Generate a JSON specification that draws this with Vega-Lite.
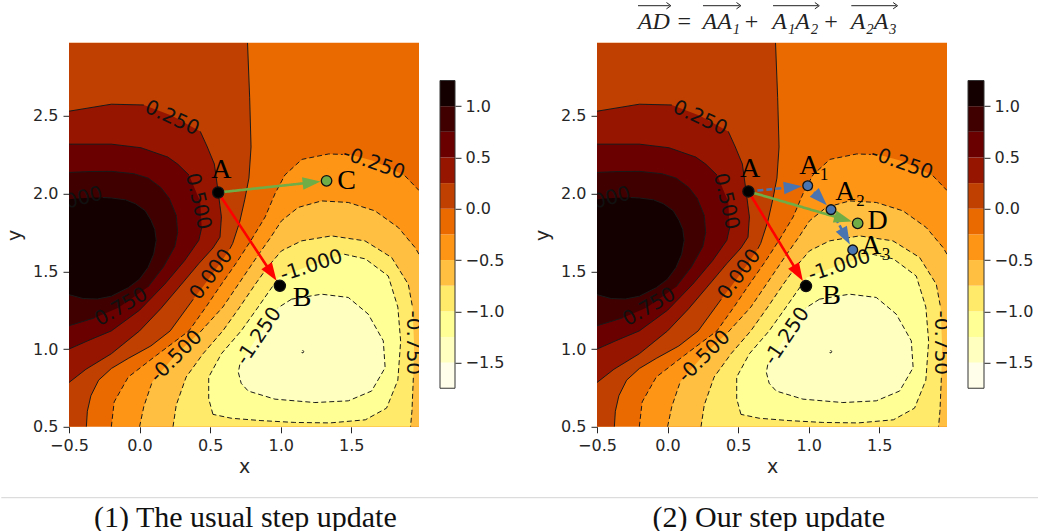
{
"$schema": "https://vega.github.io/schema/vega-lite/v6.json",
"background": "white",
"padding": {"left": 0, "top": 0, "right": 0, "bottom": 0},
"bounds": "full",
"spacing": 19.7,
"config": {
 "view": {"stroke": null},
 "axis": {"labelFont": "DejaVu Sans", "labelFontSize": 16, "labelColor": "#262626", "tickColor": "#262626", "tickSize": 6, "tickWidth": 1, "labelPadding": 5, "domain": false, "grid": false, "labelFlush": false, "labelOverlap": false, "titleFont": "DejaVu Sans", "titleFontSize": 19, "titleFontWeight": "normal", "titleColor": "#262626"},
 "axisX": {"titlePadding": 4},
 "axisY": {"titlePadding": 8}
},
"datasets": {
 "ct": [
  {"c":"p100","g":0,"s":0,"x":-0.5,"y":1.35},{"c":"p100","g":0,"s":1,"x":-0.4,"y":1.325},{"c":"p100","g":0,"s":2,"x":-0.3,"y":1.322},{"c":"p100","g":0,"s":3,"x":-0.2,"y":1.34},{"c":"p100","g":0,"s":4,"x":-0.08,"y":1.395},{"c":"p100","g":0,"s":5,"x":0.0,"y":1.45},{"c":"p100","g":0,"s":6,"x":0.06,"y":1.525},{"c":"p100","g":0,"s":7,"x":0.1,"y":1.61},{"c":"p100","g":0,"s":8,"x":0.118,"y":1.7},{"c":"p100","g":0,"s":9,"x":0.108,"y":1.77},{"c":"p100","g":0,"s":10,"x":0.08,"y":1.83},{"c":"p100","g":0,"s":11,"x":0.04,"y":1.89},{"c":"p100","g":0,"s":12,"x":-0.03,"y":1.935},{"c":"p100","g":0,"s":13,"x":-0.1,"y":1.96},{"c":"p100","g":0,"s":14,"x":-0.2,"y":1.972},{"c":"p100","g":0,"s":15,"x":-0.26,"y":1.975},{"c":"p100","g":10,"s":16,"x":-0.32,"y":1.975},{"c":"p100","g":11,"s":17,"x":-0.42,"y":1.97},{"c":"p100","g":12,"s":18,"x":-0.5,"y":1.964},
  {"c":"p75","g":0,"s":0,"x":-0.5,"y":1.15},{"c":"p75","g":0,"s":1,"x":-0.32,"y":1.2},{"c":"p75","g":10,"s":2,"x":-0.15,"y":1.265},{"c":"p75","g":1,"s":3,"x":0.06,"y":1.4},{"c":"p75","g":1,"s":4,"x":0.17,"y":1.53},{"c":"p75","g":1,"s":5,"x":0.25,"y":1.66},{"c":"p75","g":1,"s":6,"x":0.27,"y":1.75},{"c":"p75","g":1,"s":7,"x":0.26,"y":1.86},{"c":"p75","g":1,"s":8,"x":0.21,"y":1.97},{"c":"p75","g":1,"s":9,"x":0.15,"y":2.04},{"c":"p75","g":1,"s":10,"x":0.06,"y":2.1},{"c":"p75","g":1,"s":11,"x":-0.04,"y":2.128},{"c":"p75","g":1,"s":12,"x":-0.2,"y":2.143},{"c":"p75","g":1,"s":13,"x":-0.35,"y":2.142},{"c":"p75","g":1,"s":14,"x":-0.5,"y":2.136},
  {"c":"p50","g":0,"s":0,"x":-0.5,"y":1.0},{"c":"p50","g":0,"s":1,"x":-0.35,"y":1.06},{"c":"p50","g":0,"s":2,"x":-0.2,"y":1.117},{"c":"p50","g":0,"s":3,"x":0.0,"y":1.25},{"c":"p50","g":0,"s":4,"x":0.178,"y":1.417},{"c":"p50","g":0,"s":5,"x":0.32,"y":1.57},{"c":"p50","g":0,"s":6,"x":0.42,"y":1.7},{"c":"p50","g":0,"s":7,"x":0.44,"y":1.78},{"c":"p50","g":10,"s":8,"x":0.43,"y":1.95},{"c":"p50","g":1,"s":9,"x":0.35,"y":2.12},{"c":"p50","g":1,"s":10,"x":0.27,"y":2.19},{"c":"p50","g":1,"s":11,"x":0.2,"y":2.235},{"c":"p50","g":1,"s":12,"x":0.01,"y":2.295},{"c":"p50","g":1,"s":13,"x":-0.2,"y":2.318},{"c":"p50","g":1,"s":14,"x":-0.5,"y":2.318},
  {"c":"p25","g":0,"s":0,"x":-0.5,"y":0.785},{"c":"p25","g":0,"s":1,"x":-0.38,"y":0.87},{"c":"p25","g":0,"s":2,"x":-0.2,"y":0.97},{"c":"p25","g":0,"s":3,"x":0.0,"y":1.117},{"c":"p25","g":0,"s":4,"x":0.15,"y":1.26},{"c":"p25","g":0,"s":5,"x":0.297,"y":1.417},{"c":"p25","g":0,"s":6,"x":0.42,"y":1.55},{"c":"p25","g":0,"s":7,"x":0.52,"y":1.65},{"c":"p25","g":0,"s":8,"x":0.57,"y":1.72},{"c":"p25","g":0,"s":9,"x":0.58,"y":1.85},{"c":"p25","g":0,"s":10,"x":0.557,"y":2.01},{"c":"p25","g":0,"s":11,"x":0.53,"y":2.19},{"c":"p25","g":0,"s":12,"x":0.48,"y":2.3},{"c":"p25","g":0,"s":13,"x":0.43,"y":2.4},{"c":"p25","g":10,"s":14,"x":0.23,"y":2.5},{"c":"p25","g":1,"s":15,"x":0.03,"y":2.57},{"c":"p25","g":1,"s":16,"x":-0.2,"y":2.575},{"c":"p25","g":1,"s":17,"x":-0.5,"y":2.53},
  {"c":"p0","g":0,"s":0,"x":0.765,"y":2.97},{"c":"p0","g":0,"s":1,"x":0.78,"y":2.62},{"c":"p0","g":0,"s":2,"x":0.79,"y":2.3},{"c":"p0","g":0,"s":3,"x":0.775,"y":2.1},{"c":"p0","g":0,"s":4,"x":0.745,"y":1.96},{"c":"p0","g":0,"s":5,"x":0.71,"y":1.82},{"c":"p0","g":0,"s":6,"x":0.66,"y":1.68},{"c":"p0","g":0,"s":7,"x":0.64,"y":1.645},{"c":"p0","g":10,"s":8,"x":0.57,"y":1.55},{"c":"p0","g":11,"s":9,"x":0.462,"y":1.417},{"c":"p0","g":1,"s":10,"x":0.38,"y":1.32},{"c":"p0","g":1,"s":11,"x":0.34,"y":1.27},{"c":"p0","g":1,"s":12,"x":0.217,"y":1.117},{"c":"p0","g":1,"s":13,"x":0.08,"y":1.02},{"c":"p0","g":1,"s":14,"x":-0.08,"y":0.94},{"c":"p0","g":1,"s":15,"x":-0.2,"y":0.875},{"c":"p0","g":1,"s":16,"x":-0.29,"y":0.8},{"c":"p0","g":1,"s":17,"x":-0.345,"y":0.7},{"c":"p0","g":1,"s":18,"x":-0.37,"y":0.6},{"c":"p0","g":1,"s":19,"x":-0.377,"y":0.5},
  {"c":"m25","g":0,"s":0,"x":-0.2,"y":0.5},{"c":"m25","g":0,"s":1,"x":-0.18,"y":0.66},{"c":"m25","g":0,"s":2,"x":-0.08,"y":0.82},{"c":"m25","g":0,"s":3,"x":0.12,"y":0.96},{"c":"m25","g":0,"s":4,"x":0.35,"y":1.117},{"c":"m25","g":0,"s":5,"x":0.47,"y":1.27},{"c":"m25","g":0,"s":6,"x":0.58,"y":1.417},{"c":"m25","g":0,"s":7,"x":0.69,"y":1.56},{"c":"m25","g":0,"s":8,"x":0.79,"y":1.7},{"c":"m25","g":0,"s":9,"x":0.89,"y":1.85},{"c":"m25","g":0,"s":10,"x":0.96,"y":2.0},{"c":"m25","g":0,"s":11,"x":1.03,"y":2.12},{"c":"m25","g":0,"s":12,"x":1.15,"y":2.22},{"c":"m25","g":0,"s":13,"x":1.34,"y":2.255},{"c":"m25","g":0,"s":14,"x":1.44,"y":2.252},{"c":"m25","g":10,"s":15,"x":1.5,"y":2.25},{"c":"m25","g":11,"s":16,"x":1.66,"y":2.21},{"c":"m25","g":12,"s":17,"x":1.85,"y":2.13},{"c":"m25","g":1,"s":18,"x":1.88,"y":2.115},{"c":"m25","g":1,"s":19,"x":1.98,"y":2.02},
  {"c":"m50","g":0,"s":0,"x":0.0,"y":0.5},{"c":"m50","g":0,"s":1,"x":0.03,"y":0.63},{"c":"m50","g":0,"s":2,"x":0.09,"y":0.79},{"c":"m50","g":10,"s":3,"x":0.26,"y":0.967},{"c":"m50","g":1,"s":4,"x":0.43,"y":1.11},{"c":"m50","g":1,"s":5,"x":0.59,"y":1.27},{"c":"m50","g":1,"s":6,"x":0.7,"y":1.417},{"c":"m50","g":1,"s":7,"x":0.845,"y":1.611},{"c":"m50","g":1,"s":8,"x":0.93,"y":1.72},{"c":"m50","g":1,"s":9,"x":1.006,"y":1.825},{"c":"m50","g":1,"s":10,"x":1.124,"y":1.911},{"c":"m50","g":1,"s":11,"x":1.29,"y":1.953},{"c":"m50","g":1,"s":12,"x":1.479,"y":1.943},{"c":"m50","g":1,"s":13,"x":1.668,"y":1.889},{"c":"m50","g":1,"s":14,"x":1.833,"y":1.782},{"c":"m50","g":1,"s":15,"x":1.952,"y":1.653},{"c":"m50","g":1,"s":16,"x":1.98,"y":1.61},
  {"c":"m75","g":0,"s":0,"x":0.237,"y":0.5},{"c":"m75","g":0,"s":1,"x":0.26,"y":0.64},{"c":"m75","g":0,"s":2,"x":0.33,"y":0.82},{"c":"m75","g":0,"s":3,"x":0.45,"y":0.97},{"c":"m75","g":0,"s":4,"x":0.59,"y":1.117},{"c":"m75","g":0,"s":5,"x":0.71,"y":1.27},{"c":"m75","g":0,"s":6,"x":0.82,"y":1.417},{"c":"m75","g":0,"s":7,"x":0.907,"y":1.527},{"c":"m75","g":0,"s":8,"x":1.006,"y":1.632},{"c":"m75","g":0,"s":9,"x":1.148,"y":1.696},{"c":"m75","g":0,"s":10,"x":1.36,"y":1.728},{"c":"m75","g":0,"s":11,"x":1.597,"y":1.696},{"c":"m75","g":0,"s":12,"x":1.786,"y":1.589},{"c":"m75","g":0,"s":13,"x":1.904,"y":1.417},{"c":"m75","g":0,"s":14,"x":1.935,"y":1.265},{"c":"m75","g":10,"s":15,"x":1.945,"y":1.03},{"c":"m75","g":1,"s":16,"x":1.94,"y":0.815},{"c":"m75","g":1,"s":17,"x":1.93,"y":0.6},{"c":"m75","g":1,"s":18,"x":1.92,"y":0.5},
  {"c":"m100","g":0,"s":0,"x":0.52,"y":0.58},{"c":"m100","g":0,"s":1,"x":0.49,"y":0.68},{"c":"m100","g":0,"s":2,"x":0.49,"y":0.82},{"c":"m100","g":0,"s":3,"x":0.58,"y":0.97},{"c":"m100","g":0,"s":4,"x":0.72,"y":1.117},{"c":"m100","g":0,"s":5,"x":0.84,"y":1.27},{"c":"m100","g":0,"s":6,"x":0.94,"y":1.4},{"c":"m100","g":0,"s":7,"x":0.985,"y":1.46},{"c":"m100","g":10,"s":8,"x":1.219,"y":1.54},{"c":"m100","g":1,"s":9,"x":1.45,"y":1.61},{"c":"m100","g":1,"s":10,"x":1.6,"y":1.58},{"c":"m100","g":1,"s":11,"x":1.762,"y":1.47},{"c":"m100","g":1,"s":12,"x":1.83,"y":1.27},{"c":"m100","g":1,"s":13,"x":1.85,"y":1.05},{"c":"m100","g":1,"s":14,"x":1.83,"y":0.8},{"c":"m100","g":1,"s":15,"x":1.75,"y":0.62},{"c":"m100","g":1,"s":16,"x":1.6,"y":0.545},{"c":"m100","g":1,"s":17,"x":1.35,"y":0.525},{"c":"m100","g":1,"s":18,"x":1.1,"y":0.528},{"c":"m100","g":1,"s":19,"x":0.86,"y":0.54},{"c":"m100","g":1,"s":20,"x":0.65,"y":0.555},{"c":"m100","g":1,"s":21,"x":0.52,"y":0.58},
  {"c":"m125","g":0,"s":0,"x":1.077,"y":1.321},{"c":"m125","g":0,"s":1,"x":0.98,"y":1.265},{"c":"m125","g":10,"s":2,"x":0.85,"y":1.1},{"c":"m125","g":1,"s":3,"x":0.71,"y":0.9},{"c":"m125","g":1,"s":4,"x":0.7,"y":0.85},{"c":"m125","g":1,"s":5,"x":0.72,"y":0.78},{"c":"m125","g":1,"s":6,"x":0.77,"y":0.73},{"c":"m125","g":1,"s":7,"x":0.959,"y":0.678},{"c":"m125","g":1,"s":8,"x":1.242,"y":0.656},{"c":"m125","g":1,"s":9,"x":1.479,"y":0.667},{"c":"m125","g":1,"s":10,"x":1.644,"y":0.73},{"c":"m125","g":1,"s":11,"x":1.74,"y":0.88},{"c":"m125","g":1,"s":12,"x":1.727,"y":1.053},{"c":"m125","g":1,"s":13,"x":1.62,"y":1.225},{"c":"m125","g":1,"s":14,"x":1.479,"y":1.332},{"c":"m125","g":1,"s":15,"x":1.29,"y":1.353},{"c":"m125","g":1,"s":16,"x":1.077,"y":1.321},
  {"c":"m150","g":0,"s":0,"x":1.148,"y":0.978},{"c":"m150","g":0,"s":1,"x":1.158,"y":0.975},{"c":"m150","g":0,"s":2,"x":1.163,"y":0.985},{"c":"m150","g":0,"s":3,"x":1.155,"y":0.993},{"c":"m150","g":0,"s":4,"x":1.148,"y":0.985},{"c":"m150","g":0,"s":5,"x":1.148,"y":0.978}
 ],
 "lab": [
  {"t":"0.250","x":0.23,"y":2.485,"a":25},
  {"t":"0.500","x":0.415,"y":1.95,"a":77},
  {"t":"1.000","x":-0.46,"y":1.955,"a":-15},
  {"t":"0.750","x":-0.13,"y":1.27,"a":-30},
  {"t":"0.000","x":0.509,"y":1.48,"a":-53},
  {"t":"-0.500","x":0.26,"y":0.952,"a":-45},
  {"t":"-1.250","x":0.845,"y":1.083,"a":-56},
  {"t":"-1.000","x":1.218,"y":1.535,"a":-18},
  {"t":"-0.250","x":1.66,"y":2.195,"a":19},
  {"t":"-0.750","x":1.937,"y":1.04,"a":90}
 ],
 "cb": [
  {"lo":-1.75,"hi":-1.5},{"lo":-1.5,"hi":-1.25},{"lo":-1.25,"hi":-1.0},{"lo":-1.0,"hi":-0.75},{"lo":-0.75,"hi":-0.5},{"lo":-0.5,"hi":-0.25},{"lo":-0.25,"hi":0.0},{"lo":0.0,"hi":0.25},{"lo":0.25,"hi":0.5},{"lo":0.5,"hi":0.75},{"lo":0.75,"hi":1.0},{"lo":1.0,"hi":1.25}
 ],
 "arr1": [
  {"k":"direct","x":0.557,"y":2.007,"x2":0.994,"y2":1.407},
  {"k":"sum","x":0.557,"y":2.007,"x2":1.325,"y2":2.082}
 ],
 "arr2": [
  {"k":"step","x":0.573,"y":2.014,"x2":0.993,"y2":2.051},
  {"k":"step","x":0.993,"y":2.051,"x2":1.158,"y2":1.897},
  {"k":"step","x":1.158,"y":1.897,"x2":1.312,"y2":1.638},
  {"k":"sum","x":0.573,"y":2.014,"x2":1.347,"y2":1.809},
  {"k":"direct","x":0.573,"y":2.014,"x2":0.981,"y2":1.405}
 ],
 "pts1": [
  {"k":"main","x":0.557,"y":2.007},{"k":"main","x":0.994,"y":1.407},{"k":"sum","x":1.325,"y":2.082}
 ],
 "pts2": [
  {"k":"main","x":0.573,"y":2.014},{"k":"main","x":0.981,"y":1.405},{"k":"step","x":0.993,"y":2.051},{"k":"step","x":1.158,"y":1.897},{"k":"step","x":1.312,"y":1.638},{"k":"sum","x":1.347,"y":1.809}
 ],
 "tx1": [
  {"t":"A","x":0.58,"y":2.151},{"t":"B","x":1.152,"y":1.328},{"t":"C","x":1.467,"y":2.078}
 ],
 "tx2": [
  {"t":"A","x":0.585,"y":2.158},{"t":"B","x":1.163,"y":1.34},{"t":"A₁","x":1.04,"y":2.175},{"t":"A₂","x":1.294,"y":2.013},{"t":"A₃","x":1.477,"y":1.661},{"t":"D","x":1.489,"y":1.822}
 ]
},
"vconcat": [
 {"vconcat": [
  {"width": 970, "height": 28,
   "encoding": {"x": {"field": "p", "type": "quantitative", "scale": {"domain": [0, 1]}, "axis": null}},
   "layer": [
    {"data": {"values": [{"t": "AD", "p": 0.6029}, {"t": "AA₁", "p": 0.6725}, {"t": "A₁A₂", "p": 0.7488}, {"t": "A₂A₃", "p": 0.8297}]},
     "mark": {"type": "text", "font": "Liberation Serif", "fontStyle": "italic", "fontSize": 24, "color": "#222222", "align": "center", "baseline": "alphabetic"},
     "encoding": {"y": {"datum": 0.0714, "type": "quantitative", "scale": {"domain": [0, 1]}, "axis": null}, "text": {"field": "t"}}},
    {"data": {"values": [{"t": "=", "p": 0.6343}, {"t": "+", "p": 0.7037}, {"t": "+", "p": 0.7856}]},
     "mark": {"type": "text", "font": "Liberation Serif", "fontSize": 24, "color": "#222222", "align": "center", "baseline": "alphabetic"},
     "encoding": {"y": {"datum": 0.0714, "type": "quantitative"}, "text": {"field": "t"}}},
    {"data": {"values": [{"p": 0.5866, "p2": 0.6192}, {"p": 0.6536, "p2": 0.6914}, {"p": 0.7258, "p2": 0.7722}, {"p": 0.8065, "p2": 0.8529}]},
     "layer": [
      {"mark": {"type": "rule", "color": "#222222", "strokeWidth": 1}, "encoding": {"x2": {"field": "p2"}, "y": {"datum": 0.904, "type": "quantitative"}}},
      {"mark": {"type": "point", "shape": "M-1,-1L0.4,0L-1,1", "filled": false, "stroke": "#222222", "strokeWidth": 1, "size": 40, "opacity": 1}, "encoding": {"x": {"field": "p2", "type": "quantitative"}, "y": {"datum": 0.904, "type": "quantitative"}}}
     ]}
   ]
  },
  {"hconcat": [
   {"width": 350, "height": 384,
    "view": {"fill": "#ea6a00", "stroke": null},
    "encoding": {
     "x": {"field": "x", "type": "quantitative", "title": "x", "scale": {"domain": [-0.5, 1.98], "nice": false, "zero": false}, "axis": {"values": [-0.5, 0, 0.5, 1, 1.5], "format": ".1f"}},
     "y": {"field": "y", "type": "quantitative", "title": "y", "scale": {"domain": [0.5, 2.97], "nice": false, "zero": false}, "axis": {"values": [0.5, 1, 1.5, 2, 2.5], "format": ".1f"}}
    },
    "layer": [
     {"data": {"name": "ct"}, "layer": [
      {"transform": [{"filter": "datum.c==='p0'"}], "mark": {"type": "area", "orient": "horizontal", "color": "#bf4000", "clip": true}, "encoding": {"x2": {"datum": -0.5}, "order": {"value": null}}},
      {"transform": [{"filter": "datum.c==='p25'"}], "mark": {"type": "area", "orient": "horizontal", "color": "#951500", "clip": true}, "encoding": {"x2": {"datum": -0.5}, "order": {"value": null}}},
      {"transform": [{"filter": "datum.c==='p50'"}], "mark": {"type": "area", "orient": "horizontal", "color": "#6a0000", "clip": true}, "encoding": {"x2": {"datum": -0.5}, "order": {"value": null}}},
      {"transform": [{"filter": "datum.c==='p75'"}], "mark": {"type": "area", "orient": "horizontal", "color": "#400000", "clip": true}, "encoding": {"x2": {"datum": -0.5}, "order": {"value": null}}},
      {"transform": [{"filter": "datum.c==='p100'"}], "mark": {"type": "area", "orient": "horizontal", "color": "#150000", "clip": true}, "encoding": {"x2": {"datum": -0.5}, "order": {"value": null}}},
      {"transform": [{"filter": "datum.c==='m25'"}], "mark": {"type": "area", "orient": "vertical", "color": "#ff9515", "clip": true}, "encoding": {"y2": {"datum": 0.5}, "order": {"value": null}}},
      {"transform": [{"filter": "datum.c==='m50'"}], "mark": {"type": "area", "orient": "vertical", "color": "#ffbf40", "clip": true}, "encoding": {"y2": {"datum": 0.5}, "order": {"value": null}}},
      {"transform": [{"filter": "datum.c==='m75'"}], "mark": {"type": "area", "orient": "vertical", "color": "#ffea6a", "clip": true}, "encoding": {"y2": {"datum": 0.5}, "order": {"value": null}}},
      {"transform": [{"filter": "datum.c==='m100'"}], "mark": {"type": "area", "orient": "vertical", "color": "#ffff95", "clip": true}, "encoding": {"y2": {"datum": 0.5}, "order": {"value": null}}},
      {"transform": [{"filter": "datum.c==='m125'"}], "mark": {"type": "area", "orient": "vertical", "color": "#ffffbf", "clip": true}, "encoding": {"y2": {"datum": 0.5}, "order": {"value": null}}},
      {"transform": [{"filter": "datum.c[0]==='p'"}], "mark": {"type": "line", "color": "#1a1a1a", "strokeWidth": 1, "clip": true}, "encoding": {"detail": [{"field": "c"}, {"field": "g"}], "order": {"field": "s", "type": "quantitative"}}},
      {"transform": [{"filter": "datum.c[0]==='m'"}], "mark": {"type": "line", "color": "#1a1a1a", "strokeWidth": 1, "strokeDash": [5, 3], "clip": true}, "encoding": {"detail": [{"field": "c"}, {"field": "g"}], "order": {"field": "s", "type": "quantitative"}}}
     ]},
     {"data": {"name": "lab"}, "mark": {"type": "text", "font": "DejaVu Sans", "fontSize": 20, "color": "#111111", "align": "center", "baseline": "middle", "clip": true}, "encoding": {"text": {"field": "t"}, "angle": {"field": "a", "type": "quantitative", "scale": null}}},
     {"data": {"values": [{}]}, "mark": {"type": "rect", "filled": false, "stroke": "#333333", "strokeWidth": 1}, "encoding": {"x": {"datum": -0.5}, "x2": {"datum": 1.98}, "y": {"datum": 0.5}, "y2": {"datum": 2.97}}},
     {"data": {"name": "arr1"}, "transform": [
       {"calculate": "(datum.x2-datum.x)*141.1", "as": "dxp"},
       {"calculate": "(datum.y2-datum.y)*155.5", "as": "dyp"},
       {"calculate": "sqrt(datum.dxp*datum.dxp+datum.dyp*datum.dyp)", "as": "L"},
       {"calculate": "datum.x2-15*datum.dxp/datum.L/141.1", "as": "hx"},
       {"calculate": "datum.y2-15*datum.dyp/datum.L/155.5", "as": "hy"},
       {"calculate": "atan2(datum.dxp,datum.dyp)*180/PI", "as": "ang"}],
      "layer": [
       {"mark": {"type": "rule", "strokeWidth": 2.6}, "encoding": {"x2": {"field": "hx"}, "y2": {"field": "hy"},
         "color": {"field": "k", "type": "nominal", "scale": {"domain": ["direct", "sum", "step", "main"], "range": ["#ff0000", "#70ad47", "#4a74b0", "#000000"]}, "legend": null},
         "strokeDash": {"field": "k", "type": "nominal", "scale": {"domain": ["direct", "sum", "step"], "range": [[1, 0], [1, 0], [6, 3]]}, "legend": null}}},
       {"mark": {"type": "point", "shape": "M0,-1L-0.7,1L0.7,1Z", "filled": true, "size": 324, "opacity": 1, "strokeWidth": 0}, "encoding": {"x": {"field": "hx", "type": "quantitative", "title": "x"}, "y": {"field": "hy", "type": "quantitative", "title": "y"}, "angle": {"field": "ang", "type": "quantitative", "scale": null},
         "color": {"field": "k", "type": "nominal", "scale": {"domain": ["direct", "sum", "step", "main"], "range": ["#ff0000", "#70ad47", "#4a74b0", "#000000"]}, "legend": null}}}
      ]},
     {"data": {"name": "pts1"}, "mark": {"type": "point", "shape": "circle", "filled": true, "opacity": 1, "stroke": "#111111", "strokeWidth": 1.3}, "encoding": {
       "color": {"field": "k", "type": "nominal", "scale": {"domain": ["direct", "sum", "step", "main"], "range": ["#ff0000", "#70ad47", "#4a74b0", "#000000"]}, "legend": null},
       "size": {"field": "k", "type": "nominal", "scale": {"domain": ["main", "sum", "step"], "range": [125, 95, 95]}, "legend": null}}},
     {"data": {"name": "tx1"}, "mark": {"type": "text", "font": "Liberation Serif", "fontSize": 28, "color": "#000000", "align": "center", "baseline": "middle"}, "encoding": {"text": {"field": "t"}}}
    ]
   },
   {"width": 15, "height": 384,
    "layer": [
     {"data": {"name": "cb"}, "mark": {"type": "rect"}, "encoding": {
       "y": {"field": "lo", "type": "quantitative", "title": null, "scale": {"domain": [-2.126, 1.618], "nice": false, "zero": false}, "axis": {"orient": "right", "values": [-1.5, -1, -0.5, 0, 0.5, 1], "format": ".1f", "tickSize": 6, "labelPadding": 4}},
       "y2": {"field": "hi"},
       "fill": {"field": "lo", "type": "ordinal", "scale": {"domain": [-1.75, -1.5, -1.25, -1, -0.75, -0.5, -0.25, 0, 0.25, 0.5, 0.75, 1], "range": ["#fffeea", "#ffffbf", "#ffff95", "#ffea6a", "#ffbf40", "#ff9515", "#ea6a00", "#bf4000", "#951500", "#6a0000", "#400000", "#150000"]}, "legend": null}}},
     {"data": {"values": [{}]}, "mark": {"type": "rect", "filled": false, "stroke": "#333333", "strokeWidth": 1}, "encoding": {"y": {"datum": -1.75}, "y2": {"datum": 1.25}}}
    ]
   },
   {"width": 100, "height": 384, "data": {"values": [{}]}, "mark": {"type": "point", "opacity": 0}},
   {"width": 350, "height": 384,
    "view": {"fill": "#ea6a00", "stroke": null},
    "encoding": {
     "x": {"field": "x", "type": "quantitative", "title": "x", "scale": {"domain": [-0.5, 1.98], "nice": false, "zero": false}, "axis": {"values": [-0.5, 0, 0.5, 1, 1.5], "format": ".1f"}},
     "y": {"field": "y", "type": "quantitative", "title": "y", "scale": {"domain": [0.5, 2.97], "nice": false, "zero": false}, "axis": {"values": [0.5, 1, 1.5, 2, 2.5], "format": ".1f"}}
    },
    "layer": [
     {"data": {"name": "ct"}, "layer": [
      {"transform": [{"filter": "datum.c==='p0'"}], "mark": {"type": "area", "orient": "horizontal", "color": "#bf4000", "clip": true}, "encoding": {"x2": {"datum": -0.5}, "order": {"value": null}}},
      {"transform": [{"filter": "datum.c==='p25'"}], "mark": {"type": "area", "orient": "horizontal", "color": "#951500", "clip": true}, "encoding": {"x2": {"datum": -0.5}, "order": {"value": null}}},
      {"transform": [{"filter": "datum.c==='p50'"}], "mark": {"type": "area", "orient": "horizontal", "color": "#6a0000", "clip": true}, "encoding": {"x2": {"datum": -0.5}, "order": {"value": null}}},
      {"transform": [{"filter": "datum.c==='p75'"}], "mark": {"type": "area", "orient": "horizontal", "color": "#400000", "clip": true}, "encoding": {"x2": {"datum": -0.5}, "order": {"value": null}}},
      {"transform": [{"filter": "datum.c==='p100'"}], "mark": {"type": "area", "orient": "horizontal", "color": "#150000", "clip": true}, "encoding": {"x2": {"datum": -0.5}, "order": {"value": null}}},
      {"transform": [{"filter": "datum.c==='m25'"}], "mark": {"type": "area", "orient": "vertical", "color": "#ff9515", "clip": true}, "encoding": {"y2": {"datum": 0.5}, "order": {"value": null}}},
      {"transform": [{"filter": "datum.c==='m50'"}], "mark": {"type": "area", "orient": "vertical", "color": "#ffbf40", "clip": true}, "encoding": {"y2": {"datum": 0.5}, "order": {"value": null}}},
      {"transform": [{"filter": "datum.c==='m75'"}], "mark": {"type": "area", "orient": "vertical", "color": "#ffea6a", "clip": true}, "encoding": {"y2": {"datum": 0.5}, "order": {"value": null}}},
      {"transform": [{"filter": "datum.c==='m100'"}], "mark": {"type": "area", "orient": "vertical", "color": "#ffff95", "clip": true}, "encoding": {"y2": {"datum": 0.5}, "order": {"value": null}}},
      {"transform": [{"filter": "datum.c==='m125'"}], "mark": {"type": "area", "orient": "vertical", "color": "#ffffbf", "clip": true}, "encoding": {"y2": {"datum": 0.5}, "order": {"value": null}}},
      {"transform": [{"filter": "datum.c[0]==='p'"}], "mark": {"type": "line", "color": "#1a1a1a", "strokeWidth": 1, "clip": true}, "encoding": {"detail": [{"field": "c"}, {"field": "g"}], "order": {"field": "s", "type": "quantitative"}}},
      {"transform": [{"filter": "datum.c[0]==='m'"}], "mark": {"type": "line", "color": "#1a1a1a", "strokeWidth": 1, "strokeDash": [5, 3], "clip": true}, "encoding": {"detail": [{"field": "c"}, {"field": "g"}], "order": {"field": "s", "type": "quantitative"}}}
     ]},
     {"data": {"name": "lab"}, "mark": {"type": "text", "font": "DejaVu Sans", "fontSize": 20, "color": "#111111", "align": "center", "baseline": "middle", "clip": true}, "encoding": {"text": {"field": "t"}, "angle": {"field": "a", "type": "quantitative", "scale": null}}},
     {"data": {"values": [{}]}, "mark": {"type": "rect", "filled": false, "stroke": "#333333", "strokeWidth": 1}, "encoding": {"x": {"datum": -0.5}, "x2": {"datum": 1.98}, "y": {"datum": 0.5}, "y2": {"datum": 2.97}}},
     {"data": {"name": "arr2"}, "transform": [
       {"calculate": "(datum.x2-datum.x)*141.1", "as": "dxp"},
       {"calculate": "(datum.y2-datum.y)*155.5", "as": "dyp"},
       {"calculate": "sqrt(datum.dxp*datum.dxp+datum.dyp*datum.dyp)", "as": "L"},
       {"calculate": "datum.x2-15*datum.dxp/datum.L/141.1", "as": "hx"},
       {"calculate": "datum.y2-15*datum.dyp/datum.L/155.5", "as": "hy"},
       {"calculate": "atan2(datum.dxp,datum.dyp)*180/PI", "as": "ang"}],
      "layer": [
       {"mark": {"type": "rule", "strokeWidth": 2.6}, "encoding": {"x2": {"field": "hx"}, "y2": {"field": "hy"},
         "color": {"field": "k", "type": "nominal", "scale": {"domain": ["direct", "sum", "step", "main"], "range": ["#ff0000", "#70ad47", "#4a74b0", "#000000"]}, "legend": null},
         "strokeDash": {"field": "k", "type": "nominal", "scale": {"domain": ["direct", "sum", "step"], "range": [[1, 0], [1, 0], [6, 3]]}, "legend": null}}},
       {"mark": {"type": "point", "shape": "M0,-1L-0.7,1L0.7,1Z", "filled": true, "size": 324, "opacity": 1, "strokeWidth": 0}, "encoding": {"x": {"field": "hx", "type": "quantitative", "title": "x"}, "y": {"field": "hy", "type": "quantitative", "title": "y"}, "angle": {"field": "ang", "type": "quantitative", "scale": null},
         "color": {"field": "k", "type": "nominal", "scale": {"domain": ["direct", "sum", "step", "main"], "range": ["#ff0000", "#70ad47", "#4a74b0", "#000000"]}, "legend": null}}}
      ]},
     {"data": {"name": "pts2"}, "mark": {"type": "point", "shape": "circle", "filled": true, "opacity": 1, "stroke": "#111111", "strokeWidth": 1.3}, "encoding": {
       "color": {"field": "k", "type": "nominal", "scale": {"domain": ["direct", "sum", "step", "main"], "range": ["#ff0000", "#70ad47", "#4a74b0", "#000000"]}, "legend": null},
       "size": {"field": "k", "type": "nominal", "scale": {"domain": ["main", "sum", "step"], "range": [125, 95, 95]}, "legend": null}}},
     {"data": {"name": "tx2"}, "mark": {"type": "text", "font": "Liberation Serif", "fontSize": 28, "color": "#000000", "align": "center", "baseline": "middle"}, "encoding": {"text": {"field": "t"}}}
    ]
   },
   {"width": 16, "height": 384,
    "layer": [
     {"data": {"name": "cb"}, "mark": {"type": "rect"}, "encoding": {
       "y": {"field": "lo", "type": "quantitative", "title": null, "scale": {"domain": [-2.126, 1.618], "nice": false, "zero": false}, "axis": {"orient": "right", "values": [-1.5, -1, -0.5, 0, 0.5, 1], "format": ".1f", "tickSize": 6, "labelPadding": 4}},
       "y2": {"field": "hi"},
       "fill": {"field": "lo", "type": "ordinal", "scale": {"domain": [-1.75, -1.5, -1.25, -1, -0.75, -0.5, -0.25, 0, 0.25, 0.5, 0.75, 1], "range": ["#fffeea", "#ffffbf", "#ffff95", "#ffea6a", "#ffbf40", "#ff9515", "#ea6a00", "#bf4000", "#951500", "#6a0000", "#400000", "#150000"]}, "legend": null}}},
     {"data": {"values": [{}]}, "mark": {"type": "rect", "filled": false, "stroke": "#333333", "strokeWidth": 1}, "encoding": {"y": {"datum": -1.75}, "y2": {"datum": 1.25}}}
    ]
   }
  ], "spacing": 21, "bounds": "flush"}
 ], "spacing": 7.8, "bounds": "full"},
 {"width": 970, "height": 34,
  "layer": [
   {"data": {"values": [{}]}, "mark": {"type": "rule", "color": "#d4d4d4", "strokeWidth": 1}, "encoding": {"x": {"datum": -0.0698, "type": "quantitative", "scale": {"domain": [0, 1]}, "axis": null}, "x2": {"datum": 1}, "y": {"datum": 1, "type": "quantitative", "scale": {"domain": [0, 1]}, "axis": null}}},
   {"data": {"values": [{"t": "(1) The usual step update", "p": 0.1818}, {"t": "(2) Our step update", "p": 0.7214}]}, "mark": {"type": "text", "font": "Liberation Serif", "fontSize": 30, "color": "#111111", "align": "center", "baseline": "middle"}, "encoding": {"x": {"field": "p", "type": "quantitative"}, "y": {"datum": 0.41, "type": "quantitative"}, "text": {"field": "t"}}}
  ]
 }
]
}
